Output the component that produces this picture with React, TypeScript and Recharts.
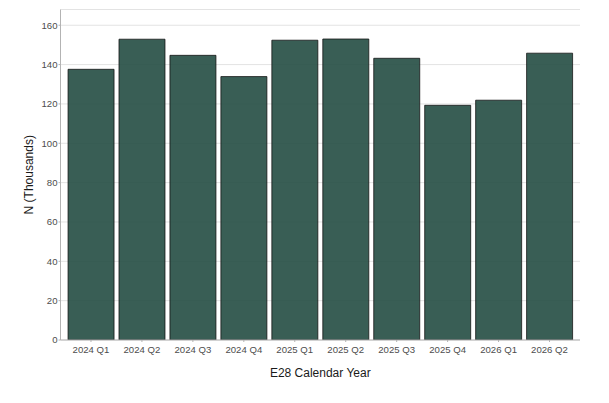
import React from 'react';
import { BarChart, Bar, XAxis, YAxis, CartesianGrid } from 'recharts';

const quarters = ['2024 Q1', '2024 Q2', '2024 Q3', '2024 Q4', '2025 Q1', '2025 Q2', '2025 Q3', '2025 Q4', '2026 Q1', '2026 Q2'];
const counts = [137.6, 152.9, 144.7, 133.9, 152.4, 153.0, 143.2, 119.3, 121.9, 145.8];
const yTicks = [0, 20, 40, 60, 80, 100, 120, 140, 160];

const data = quarters.map((q, i) => ({ q, n: counts[i] }));

const FONT = '"Liberation Sans", Arial, sans-serif';

const XTitle = (props: any) => {
  const vb = props.viewBox || {};
  return (
    <text x={vb.x + vb.width / 2} y={vb.y + 37} textAnchor="middle" fontFamily={FONT} fontSize={12} fill="#1a1a1a">
      E28 Calendar Year
    </text>
  );
};

const YTitle = (props: any) => {
  const vb = props.viewBox || {};
  const cx = 33;
  const cy = vb.y + vb.height / 2;
  return (
    <text x={cx} y={cy} transform={`rotate(-90 ${cx} ${cy})`} textAnchor="middle" fontFamily={FONT} fontSize={12} fill="#1a1a1a">
      N (Thousands)
    </text>
  );
};

export default function App() {
  return (
    <div style={{ position: 'absolute', left: 0, top: 0, width: 609, height: 403, background: '#fff' }}>
      <BarChart
        width={609}
        height={403}
        data={data}
        margin={{ top: 9.5, right: 29, left: 0.5, bottom: 0 }}
        barCategoryGap="5%"
      >
        <CartesianGrid vertical={false} stroke="#e3e3e3" strokeWidth={1} />
        <XAxis
          dataKey="q"
          height={63}
          padding={{ left: 5, right: 5 }}
          tickSize={2}
          tickMargin={4}
          tickLine={{ stroke: '#b3b3b3' }}
          axisLine={{ stroke: '#b3b3b3' }}
          tick={{ fill: '#4d4d4d', fontSize: 9.6, fontFamily: FONT }}
          interval={0}
          label={<XTitle />}
        />
        <XAxis
          xAxisId="top"
          orientation="top"
          dataKey="q"
          height={0}
          tick={false}
          tickLine={false}
          axisLine={{ stroke: '#b3b3b3' }}
        />
        <YAxis
          type="number"
          domain={[0, 168]}
          ticks={yTicks}
          width={60}
          tickSize={2}
          tickMargin={1}
          tickLine={{ stroke: '#b3b3b3' }}
          axisLine={{ stroke: '#b3b3b3' }}
          tick={{ fill: '#4d4d4d', fontSize: 9.6, fontFamily: FONT }}
          allowDataOverflow
          label={<YTitle />}
        />
        <YAxis
          yAxisId="right"
          orientation="right"
          type="number"
          domain={[0, 168]}
          width={0}
          tick={false}
          tickLine={false}
          axisLine={{ stroke: '#b3b3b3' }}
        />
        <Bar
          dataKey="n"
          fill="#244c42"
          fillOpacity={0.9}
          stroke="#111"
          strokeOpacity={0.85}
          strokeWidth={0.9}
          isAnimationActive={false}
        />
      </BarChart>
    </div>
  );
}
